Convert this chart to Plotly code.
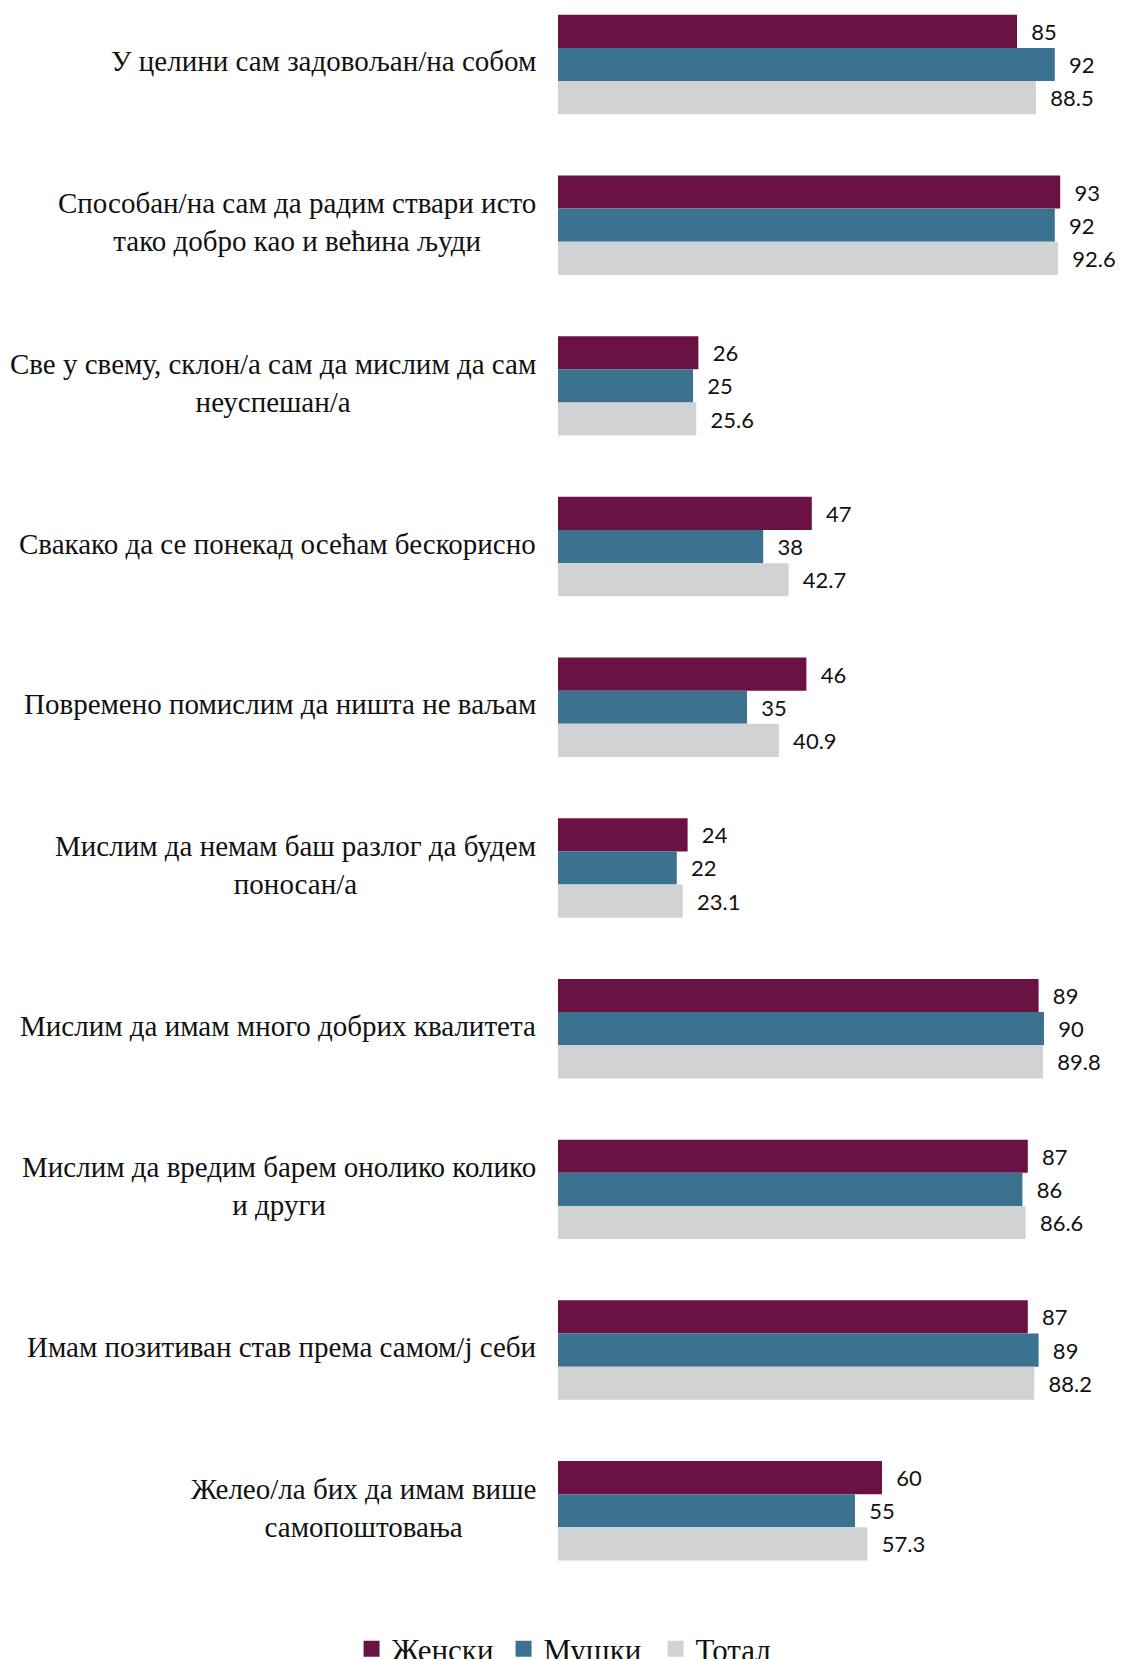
import plotly.graph_objects as go

# Survey statements (top to bottom) and shares of agreement, in percent
statements = [
    "У целини сам задовољан/на собом",
    "Способан/на сам да радим ствари исто<br>тако добро као и већина људи",
    "Све у свему, склон/а сам да мислим да сам<br>неуспешан/а",
    "Свакако да се понекад осећам бескорисно",
    "Повремено помислим да ништа не ваљам",
    "Мислим да немам баш разлог да будем<br>поносан/а",
    "Мислим да имам много добрих квалитета",
    "Мислим да вредим барем онолико колико<br>и други",
    "Имам позитиван став према самом/ј себи",
    "Желео/ла бих да имам више<br>самопоштовања",
]
categories = [f"q{i + 1}" for i in range(len(statements))]

women = [85, 93, 26, 47, 46, 24, 89, 87, 87, 60]
men = [92, 92, 25, 38, 35, 22, 90, 86, 89, 55]
total = [88.5, 92.6, 25.6, 42.7, 40.9, 23.1, 89.8, 86.6, 88.2, 57.3]

series_names = ["Женски", "Мушки", "Тотал"]
series_values = [women, men, total]
series_colors = ["#6b1245", "#3b728f", "#d1d2d4"]

W, H = 1121, 1659
LABEL_FONT = "Liberation Serif, Times New Roman, serif"
VALUE_FONT = "Lato, Open Sans, sans-serif"

fig = go.Figure()
for name, vals, color in zip(series_names, series_values, series_colors):
    fig.add_trace(go.Bar(
        name=name,
        legendgroup=name,
        showlegend=False,
        y=categories,
        x=vals,
        orientation="h",
        marker=dict(color=color, line=dict(width=0)),
        text=[f"{v:g}" for v in vals],
        texttemplate="\u00a0\u00a0%{text}",
        textposition="outside",
        constraintext="none",
        cliponaxis=False,
        textfont=dict(family=VALUE_FONT, size=22, color="#111111"),
        hoverinfo="skip",
    ))

# Legend entries with square swatches, tied to the bar series above
for name, color in zip(series_names, series_colors):
    fig.add_trace(go.Scatter(
        name=name,
        legendgroup=name,
        x=[None], y=[None],
        mode="markers",
        marker=dict(symbol="square", size=16, color=color),
        hoverinfo="skip",
    ))

# Statement labels: right-aligned block, lines centred within it
for cat, label in zip(categories, statements):
    fig.add_annotation(
        x=0, xref="paper", y=cat, yref="y",
        text=label, showarrow=False,
        xanchor="right", yanchor="middle", align="center",
        xshift=-20, yshift=3,
        font=dict(family=LABEL_FONT, size=29, color="#111111"),
    )

fig.update_layout(
    width=W, height=H,
    barmode="group",
    bargap=0.381,
    bargroupgap=0,
    plot_bgcolor="white",
    paper_bgcolor="white",
    margin=dict(l=558, r=23, t=10, b=69, autoexpand=False),
    showlegend=True,
    legend=dict(
        orientation="h",
        xref="container", yref="container",
        x=0.517, xanchor="center",
        y=0.006, yanchor="middle",
        entrywidth=107, entrywidthmode="pixels",
        font=dict(family=LABEL_FONT, size=31, color="#111111"),
        bgcolor="rgba(0,0,0,0)",
    ),
    xaxis=dict(range=[0, 100], visible=False, fixedrange=True),
    yaxis=dict(
        type="category",
        categoryorder="array", categoryarray=categories,
        range=[9.493, -0.339],
        showticklabels=False, showgrid=False, zeroline=False,
        showline=False, ticks="", fixedrange=True,
    ),
)

fig.write_html("out.html")
